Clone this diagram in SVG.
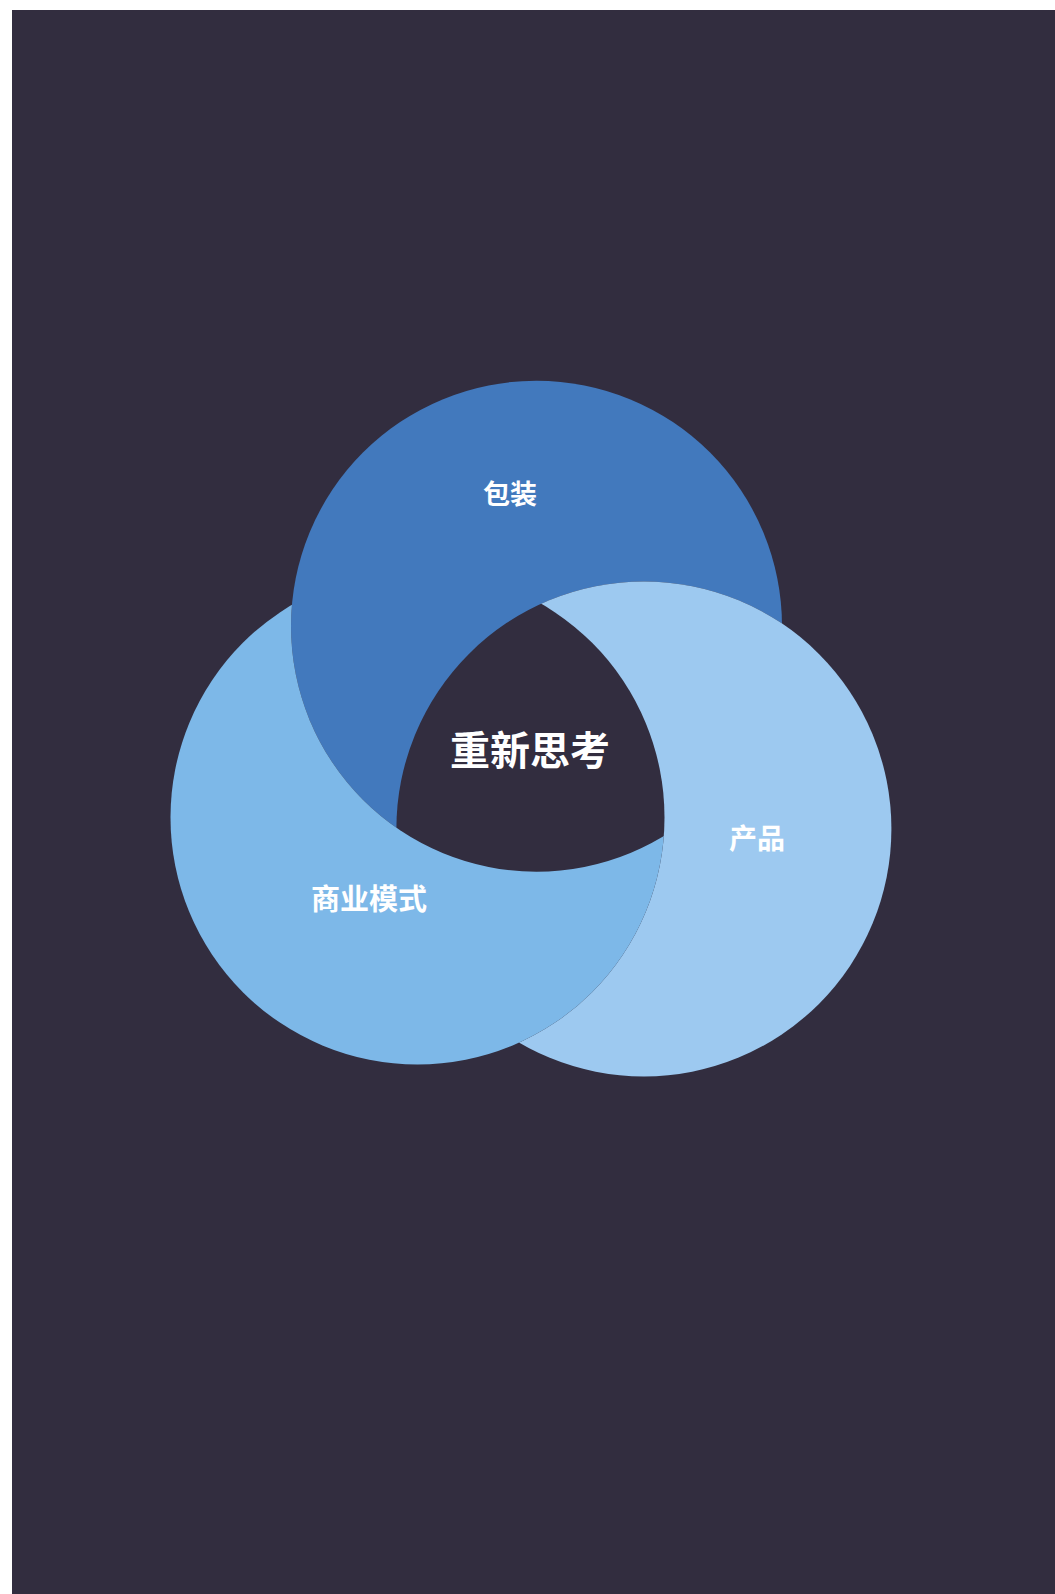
<svg xmlns="http://www.w3.org/2000/svg" width="1055" height="1594" viewBox="0 0 1055 1594">
<style>
.lbl{font-family:"Noto Sans CJK SC","Noto Sans",sans-serif;font-weight:bold;fill:#ffffff;text-anchor:middle}
</style>
<defs>
<circle id="cB" cx="536.5" cy="626.2" r="245.5"/>
<circle id="cR" cx="643.9" cy="828.9" r="247.5"/>
<circle id="cM" cx="417.5" cy="817.5" r="247"/>
<mask id="mB" maskUnits="userSpaceOnUse" x="0" y="0" width="1055" height="1594">
<rect width="1055" height="1594" fill="#fff"/>
<use href="#cR" fill="#000"/>
</mask>
<mask id="mR" maskUnits="userSpaceOnUse" x="0" y="0" width="1055" height="1594">
<rect width="1055" height="1594" fill="#fff"/>
<use href="#cM" fill="#000"/>
</mask>
<mask id="mM" maskUnits="userSpaceOnUse" x="0" y="0" width="1055" height="1594">
<rect width="1055" height="1594" fill="#fff"/>
<use href="#cB" fill="#000"/>
</mask>
</defs>
<rect width="1055" height="1594" fill="#ffffff"/>
<rect x="12" y="10" width="1043" height="1584" fill="#322D3F"/>
<g id="node-baozhuang">
<use href="#cB" fill="#4279BD" mask="url(#mB)"/>
<text class="lbl" x="510" y="504" font-size="27">包装</text>
</g>
<g id="node-chanpin">
<use href="#cR" fill="#9DC9F0" mask="url(#mR)"/>
<text class="lbl" x="757" y="849" font-size="28">产品</text>
</g>
<g id="node-shangyemoshi">
<use href="#cM" fill="#7DB8E8" mask="url(#mM)"/>
<text class="lbl" x="369" y="910" font-size="29">商业模式</text>
</g>
<g id="node-center">
<text class="lbl" x="530" y="765" font-size="40">重新思考</text>
</g>
<g id="connectors"/>
</svg>
